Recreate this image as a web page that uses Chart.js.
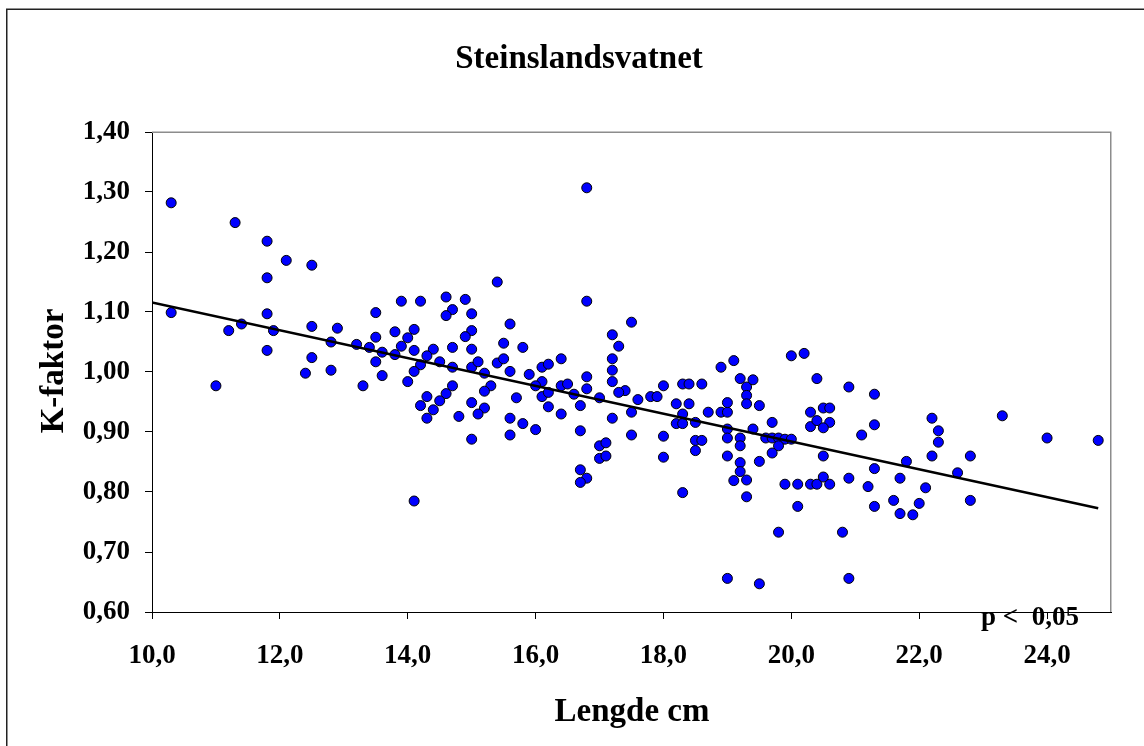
<!DOCTYPE html>
<html>
<head>
<meta charset="utf-8">
<script src="https://cdn.jsdelivr.net/npm/chart.js@4/dist/chart.umd.min.js"></script>
<style>
  html, body { margin: 0; padding: 0; background: #ffffff; }
  canvas { display: block; }
</style>
</head>
<body>
<canvas id="chart" width="1144" height="746"></canvas>
<script>
// Fish length (cm) and condition factor for each sampled fish
const lengde = [
  10.3, 11.3, 11.8, 12.1, 12.5, 11.8, 10.3, 11.8, 13.5, 11.4,
  11.2, 11.9, 12.5, 12.9, 13.5, 13.8, 12.8, 13.2, 13.4, 13.6,
  13.8, 11.8, 13.5, 12.5, 12.4, 12.8, 13.6, 13.3, 11.0, 16.8,
  15.4, 13.9, 14.2, 14.6, 14.9, 16.8, 14.7, 14.6, 15.0, 15.6,
  17.5, 14.1, 14.0, 15.0, 14.9, 17.2, 13.9, 14.1, 14.4, 14.7,
  15.0, 15.5, 15.8, 17.3, 14.3, 14.5, 14.2, 14.7, 15.0, 15.1,
  15.4, 15.5, 16.4, 17.2, 14.1, 15.2, 15.6, 15.9, 16.1, 16.2,
  17.2, 14.0, 16.8, 17.2, 14.7, 15.3, 16.1, 16.4, 16.5, 16.0,
  16.8, 17.4, 14.3, 14.2, 14.6, 14.5, 14.4, 14.3, 15.0, 15.2,
  15.2, 15.1, 14.8, 15.0, 15.7, 15.6, 15.6, 15.8, 16.0, 16.1,
  16.2, 16.2, 16.4, 16.6, 16.7, 16.7, 17.0, 17.3, 17.2, 17.5,
  17.6, 17.5, 17.0, 17.1, 17.0, 17.1, 16.7, 16.8, 16.7, 14.1,
  18.0, 18.3, 18.4, 18.6, 17.8, 17.9, 18.2, 18.4, 18.3, 18.2,
  18.3, 18.5, 18.7, 18.9, 19.0, 19.0, 19.2, 19.3, 19.3, 19.3,
  19.4, 19.5, 19.0, 19.0, 18.5, 18.6, 18.5, 18.0, 18.0, 18.3,
  19.2, 19.2, 19.4, 19.0, 19.2, 19.2, 19.1, 19.3, 19.3, 19.5,
  19.7, 19.6, 19.7, 19.8, 19.9, 20.0, 19.8, 19.7, 19.9, 20.1,
  20.3, 20.4, 20.6, 20.5, 20.1, 19.8, 20.8, 19.0, 19.5, 20.9,
  20.5, 20.9, 20.3, 20.3, 20.4, 20.5, 20.6, 20.6, 20.5, 20.4,
  20.9, 21.3, 21.3, 21.1, 21.3, 21.2, 21.3, 18.9, 19.1, 20.0,
  20.2, 22.2, 22.3, 22.3, 22.2, 22.8, 22.6, 22.8, 23.3, 24.0,
  24.8, 21.8, 21.7, 22.1, 21.6, 22.0, 21.7, 21.9
];
const kFaktor = [
  1.282, 1.249, 1.218, 1.186, 1.178, 1.157, 1.099, 1.097, 1.099, 1.080,
  1.069, 1.069, 1.076, 1.073, 1.058, 1.067, 1.050, 1.046, 1.041, 1.033,
  1.029, 1.036, 1.017, 1.024, 0.998, 1.003, 0.994, 0.977, 0.977, 1.307,
  1.150, 1.118, 1.118, 1.125, 1.121, 1.118, 1.104, 1.094, 1.097, 1.080,
  1.083, 1.071, 1.057, 1.069, 1.059, 1.062, 1.043, 1.036, 1.038, 1.041,
  1.038, 1.048, 1.041, 1.043, 1.027, 1.017, 1.012, 1.008, 1.008, 1.017,
  1.015, 1.022, 1.022, 1.022, 1.001, 0.998, 1.001, 0.996, 1.008, 1.013,
  1.003, 0.984, 0.992, 0.984, 0.977, 0.977, 0.984, 0.977, 0.980, 0.977,
  0.972, 0.969, 0.959, 0.944, 0.964, 0.952, 0.937, 0.923, 0.949, 0.968,
  0.940, 0.930, 0.926, 0.888, 0.957, 0.923, 0.895, 0.914, 0.904, 0.959,
  0.966, 0.942, 0.930, 0.963, 0.944, 0.902, 0.957, 0.966, 0.923, 0.933,
  0.954, 0.895, 0.877, 0.882, 0.856, 0.860, 0.837, 0.823, 0.816, 0.785,
  0.977, 0.980, 0.980, 0.980, 0.959, 0.959, 0.947, 0.947, 0.930, 0.914,
  0.914, 0.916, 0.933, 0.933, 0.933, 0.949, 0.989, 0.975, 0.961, 0.947,
  0.987, 0.944, 0.905, 0.890, 0.886, 0.886, 0.869, 0.893, 0.858, 0.799,
  0.890, 0.877, 0.905, 0.860, 0.849, 0.834, 0.819, 0.820, 0.792, 0.851,
  0.916, 0.890, 0.890, 0.890, 0.888, 0.888, 0.877, 0.865, 0.813, 0.813,
  0.813, 0.813, 0.813, 0.825, 0.776, 0.733, 0.733, 0.656, 0.647, 0.656,
  0.860, 0.823, 0.933, 0.909, 0.919, 0.940, 0.940, 0.916, 0.907, 0.989,
  0.975, 0.963, 0.912, 0.895, 0.839, 0.809, 0.776, 1.008, 1.019, 1.027,
  1.031, 0.923, 0.902, 0.883, 0.860, 0.860, 0.832, 0.786, 0.927, 0.890,
  0.886, 0.851, 0.823, 0.807, 0.786, 0.781, 0.764, 0.762
];

// Linear trend line end points
const trendLengde = [10.0, 24.8];
const trendK = [1.116, 0.773];

// Axis ticks
const xTickValues = [10, 12, 14, 16, 18, 20, 22, 24];
const yTickValues = [0.6, 0.7, 0.8, 0.9, 1.0, 1.1, 1.2, 1.3, 1.4];

const tittel = 'Steinslandsvatnet';
const xTittel = 'Lengde cm';
const yTittel = 'K-faktor';
const pTekst = 'p <  0,05';

const SERIF = '"Liberation Serif", "Times New Roman", Times, serif';

const fishPoints = lengde.map((x, i) => ({ x: x, y: kFaktor[i] }));
const trendPoints = trendLengde.map((x, i) => ({ x: x, y: trendK[i] }));

const decorations = {
  id: 'decorations',
  beforeDraw(chart) {
    const ctx = chart.ctx;
    ctx.save();
    ctx.fillStyle = '#ffffff';
    ctx.fillRect(0, 0, chart.width, chart.height);
    ctx.restore();
  },
  afterDraw(chart) {
    const ctx = chart.ctx;
    const a = chart.chartArea;
    ctx.save();

    // outer chart frame
    ctx.strokeStyle = '#222222';
    ctx.lineWidth = 1.5;
    ctx.beginPath();
    ctx.moveTo(6.75, 760);
    ctx.lineTo(6.75, 9.25);
    ctx.lineTo(1150, 9.25);
    ctx.stroke();

    // plot area border (top and right)
    ctx.strokeStyle = '#8c8c8c';
    ctx.lineWidth = 1.5;
    ctx.beginPath();
    ctx.moveTo(a.left, a.top + 0.25);
    ctx.lineTo(a.right - 0.25, a.top + 0.25);
    ctx.lineTo(a.right - 0.25, a.bottom);
    ctx.stroke();

    ctx.fillStyle = '#000000';

    // title
    ctx.font = 'bold 33px ' + SERIF;
    ctx.textAlign = 'center';
    ctx.textBaseline = 'alphabetic';
    ctx.fillText(tittel, 579, 68);

    // x axis title
    ctx.fillText(xTittel, 632, 721);

    // y axis title
    ctx.save();
    ctx.translate(63, 371);
    ctx.rotate(-Math.PI / 2);
    ctx.textAlign = 'center';
    ctx.fillText(yTittel, 0, 0);
    ctx.restore();

    // significance note
    ctx.font = 'bold 27px ' + SERIF;
    ctx.textAlign = 'left';
    ctx.fillText(pTekst, 981, 625);

    ctx.restore();
  }
};

new Chart(document.getElementById('chart'), {
  type: 'scatter',
  data: {
    datasets: [
      {
        type: 'line',
        label: 'Trend',
        data: trendPoints,
        borderColor: '#000000',
        borderWidth: 2.6,
        pointRadius: 0,
        fill: false,
        tension: 0,
        order: 0
      },
      {
        label: 'K-faktor',
        data: fishPoints,
        backgroundColor: '#0000ff',
        borderColor: '#000000',
        borderWidth: 1,
        pointRadius: 5,
        pointHoverRadius: 5,
        order: 1
      }
    ]
  },
  options: {
    responsive: false,
    animation: false,
    devicePixelRatio: 1,
    layout: { padding: { left: 0, top: 132, right: 33, bottom: 0 } },
    plugins: {
      legend: { display: false },
      title: { display: false },
      tooltip: { enabled: false }
    },
    scales: {
      x: {
        type: 'linear',
        min: 10,
        max: 25,
        afterFit(scale) { scale.height = 134; },
        afterBuildTicks(scale) { scale.ticks = xTickValues.map(v => ({ value: v })); },
        ticks: {
          color: '#000000',
          font: { family: SERIF, size: 27, weight: 'bold' },
          padding: 21,
          maxRotation: 0,
          autoSkip: false,
          callback: v => Number(v).toFixed(1).replace('.', ',')
        },
        grid: {
          drawOnChartArea: false,
          drawTicks: true,
          tickLength: 7,
          color: '#000000',
          tickColor: '#000000'
        },
        border: { display: true, color: '#000000', width: 1 }
      },
      y: {
        type: 'linear',
        min: 0.6,
        max: 1.4,
        afterFit(scale) { scale.width = 152; },
        afterBuildTicks(scale) { scale.ticks = yTickValues.map(v => ({ value: v })); },
        ticks: {
          color: '#000000',
          font: { family: SERIF, size: 27, weight: 'bold' },
          padding: 15,
          autoSkip: false,
          callback: v => Number(v).toFixed(2).replace('.', ',')
        },
        grid: {
          drawOnChartArea: false,
          drawTicks: true,
          tickLength: 7,
          color: '#000000',
          tickColor: '#000000'
        },
        border: { display: true, color: '#000000', width: 1 }
      }
    }
  },
  plugins: [decorations]
});
</script>
</body>
</html>
